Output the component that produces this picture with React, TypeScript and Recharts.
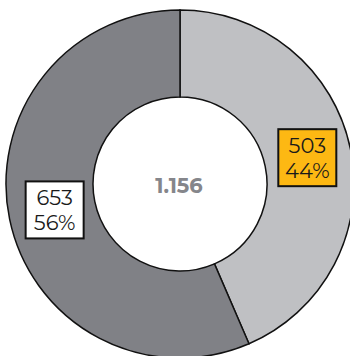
import React from "react";
import { PieChart, Pie, Cell } from "recharts";

const categories = ["A", "B"];
const values = [503, 653];
const percents = ["44%", "56%"];
const totalLabel = "1.156";
const fills = ["#BFC0C3", "#808186"];
const boxFills = ["#FDB813", "#FFFFFF"];

const data = categories.map((c, i) => ({ name: c, value: values[i] }));

const RAD = Math.PI / 180;
const labelRadius = [130, 128];

const renderLabel = (props: any) => {
  const { cx, cy, midAngle, index } = props;
  const r = labelRadius[index];
  const x = cx + r * Math.cos(-midAngle * RAD);
  const y = cy + r * Math.sin(-midAngle * RAD);
  const w = 58;
  const h = 57;
  return (
    <g>
      <rect
        x={x - w / 2}
        y={y - h / 2}
        width={w}
        height={h}
        fill={boxFills[index]}
        stroke="#111"
        strokeWidth={2}
      />
      <text
        x={x}
        y={y - 12}
        textAnchor="middle"
        dominantBaseline="central"
        fontSize={21}
        fontFamily="Montserrat, 'Noto Sans', sans-serif"
        fill="#1a1a1a"
      >
        {values[index]}
      </text>
      <text
        x={x}
        y={y + 13}
        textAnchor="middle"
        dominantBaseline="central"
        fontSize={21}
        fontFamily="Montserrat, 'Noto Sans', sans-serif"
        fill="#1a1a1a"
      >
        {percents[index]}
      </text>
    </g>
  );
};

export default function App() {
  return (
    <div style={{ position: "absolute", left: 0, top: 0, width: 350, height: 356, background: "#fff" }}>
      <PieChart width={350} height={356} margin={{ top: 0, right: 0, bottom: 0, left: 0 }}>
        <Pie
          data={data}
          dataKey="value"
          cx={180}
          cy={184}
          innerRadius={87}
          outerRadius={174}
          startAngle={90}
          endAngle={-270}
          stroke="#111"
          strokeWidth={1.5}
          label={renderLabel}
          labelLine={false}
          isAnimationActive={false}
        >
          {data.map((d, i) => (
            <Cell key={d.name} fill={fills[i]} />
          ))}
        </Pie>
        <text
          x={179}
          y={185}
          textAnchor="middle"
          dominantBaseline="central"
          fontSize={21}
          fontWeight="bold"
          fontFamily="Montserrat, 'Noto Sans', sans-serif"
          fill="#85868B"
        >
          {totalLabel}
        </text>
      </PieChart>
    </div>
  );
}
